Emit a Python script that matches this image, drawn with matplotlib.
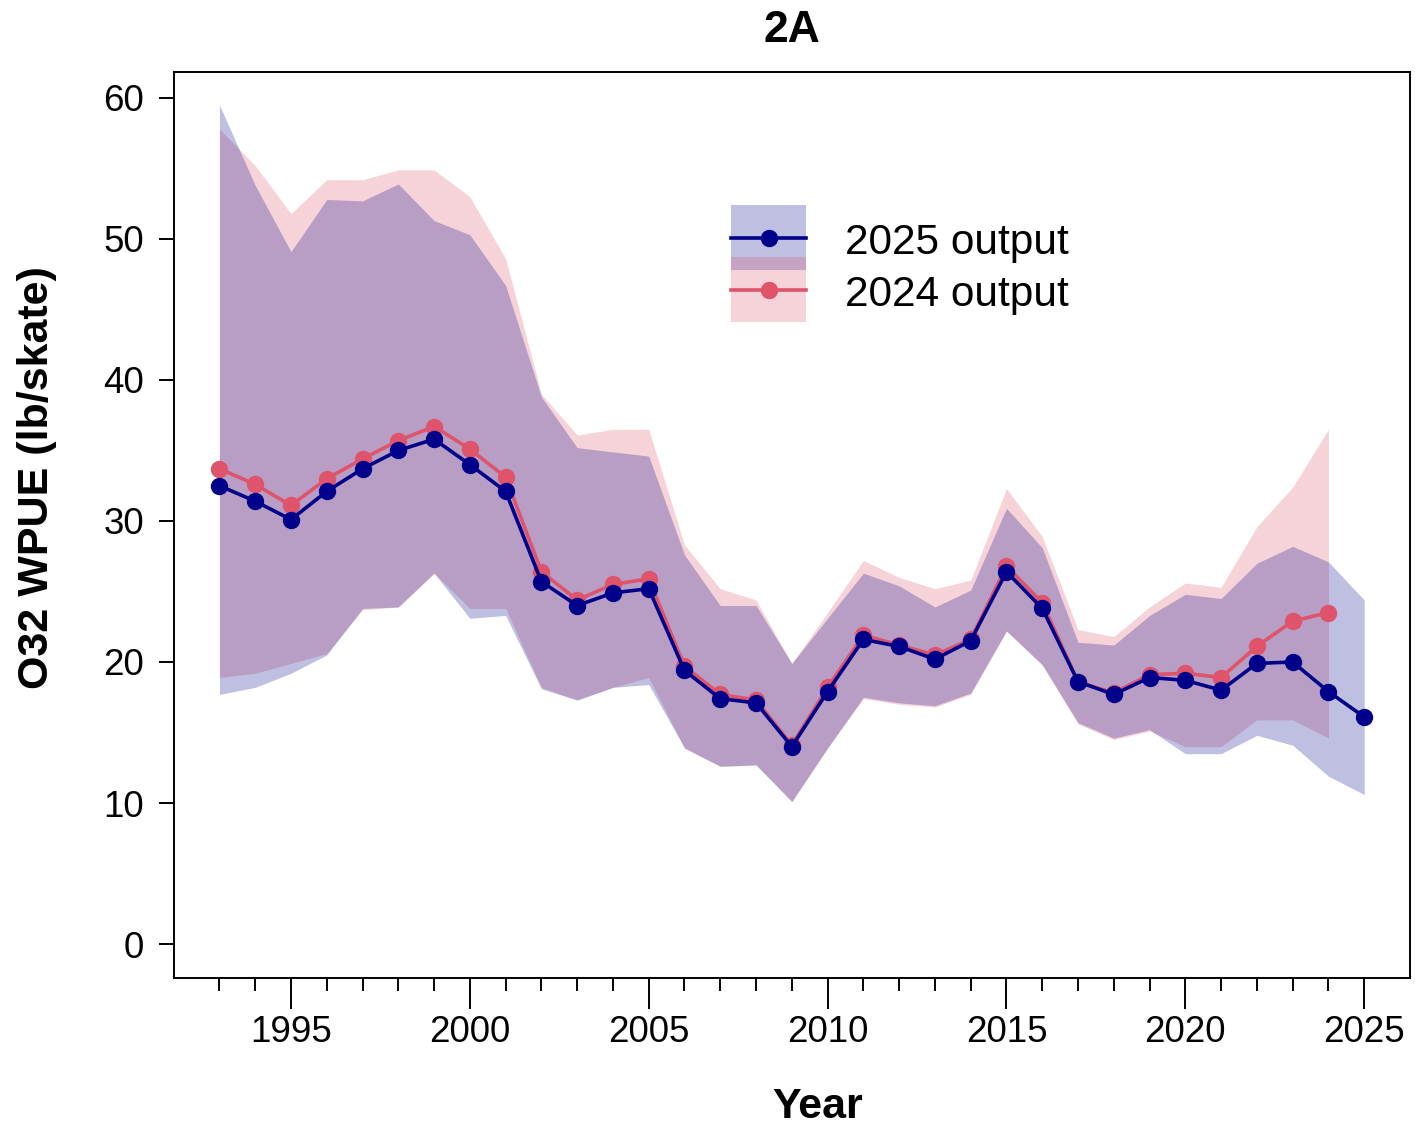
import matplotlib
matplotlib.use("Agg")
import matplotlib.pyplot as plt
from matplotlib.patches import Rectangle
import numpy as np

plt.rcParams['font.family'] = ['Liberation Sans', 'DejaVu Sans']

years_2025 = list(range(1993, 2026))
years_2024 = list(range(1993, 2025))

est_2025 = [32.5, 31.4, 30.1, 32.1, 33.7, 35.0, 35.8, 34.0, 32.1, 25.7, 24.0, 24.9, 25.2,
            19.4, 17.4, 17.1, 14.0, 17.9, 21.6, 21.1, 20.2, 21.5, 26.4, 23.8, 18.6, 17.7,
            18.9, 18.7, 18.0, 19.9, 20.0, 17.9, 16.1]
upr_2025 = [59.5, 53.8, 49.1, 52.8, 52.7, 53.9, 51.3, 50.3, 46.7, 38.8, 35.2, 34.9, 34.6,
            27.6, 24.0, 24.0, 19.9, 23.1, 26.3, 25.4, 23.9, 25.1, 30.9, 28.1, 21.4, 21.2,
            23.3, 24.8, 24.5, 27.0, 28.2, 27.1, 24.4]
lwr_2025 = [17.7, 18.2, 19.2, 20.5, 23.8, 23.9, 26.3, 23.1, 23.3, 18.1, 17.3, 18.2, 18.4,
            13.9, 12.6, 12.7, 10.1, 13.9, 17.5, 17.1, 16.9, 17.8, 22.2, 19.8, 15.7, 14.6,
            15.2, 13.5, 13.5, 14.8, 14.1, 11.9, 10.6]

est_2024 = [33.7, 32.6, 31.1, 33.0, 34.4, 35.7, 36.7, 35.1, 33.1, 26.4, 24.4, 25.5, 25.9,
            19.7, 17.7, 17.3, 14.1, 18.2, 21.9, 21.2, 20.5, 21.6, 26.8, 24.2, 18.6, 17.8,
            19.1, 19.2, 18.9, 21.1, 22.9, 23.5]
upr_2024 = [57.8, 55.2, 51.8, 54.2, 54.2, 54.9, 54.9, 53.0, 48.6, 39.0, 36.1, 36.5, 36.5,
            28.3, 25.2, 24.4, 19.9, 23.5, 27.2, 26.0, 25.2, 25.8, 32.3, 28.9, 22.3, 21.8,
            23.9, 25.6, 25.3, 29.6, 32.4, 36.5]
lwr_2024 = [18.9, 19.2, 19.9, 20.6, 23.7, 23.9, 26.3, 23.8, 23.8, 18.2, 17.3, 18.2, 18.9,
            13.9, 12.6, 12.7, 10.1, 13.9, 17.4, 17.0, 16.8, 17.7, 22.2, 19.8, 15.6, 14.5,
            15.1, 14.0, 14.0, 15.9, 15.9, 14.6]

labels = ["2025 output", "2024 output"]
blue = "#00008B"
red = "#DF536B"
alpha = 0.25

fig = plt.figure(figsize=(14.15, 11.25), dpi=100)
ax = fig.add_axes([174/1415, 1-978/1125, (1410-174)/1415, (978-72)/1125])

ax.fill_between(years_2024, lwr_2024, upr_2024, color=red, alpha=alpha, lw=0, zorder=1)
ax.fill_between(years_2025, lwr_2025, upr_2025, color=blue, alpha=alpha, lw=0, zorder=2)
ax.plot(years_2024, est_2024, color=red, lw=2.6, marker='o', ms=11.5, zorder=3)
ax.plot(years_2025, est_2025, color=blue, lw=2.6, marker='o', ms=11.5, zorder=4)

ax.set_xlim(1991.73, 2026.28)
ax.set_ylim(-2.41, 61.84)
ax.set_yticks(np.arange(0, 61, 10))
ax.set_xticks(np.arange(1995, 2026, 5))
ax.set_xticks(np.arange(1993, 2026, 1), minor=True)
ax.tick_params(axis='y', which='major', length=10.5, width=1.4, pad=11, labelsize=26.5)
ax.tick_params(axis='x', which='major', length=22, width=1.4, pad=5, labelsize=26.5)
ax.tick_params(axis='x', which='minor', length=9.5, width=1.4)
for s in ax.spines.values():
    s.set_linewidth(1.4)

# legend (manual, overlapping boxes)
lx0 = (731-174)/1236
lw_ = (806-731)/1236
ax.add_patch(Rectangle((lx0, (978-270)/906), lw_, 65/906, transform=ax.transAxes,
                       facecolor=blue, alpha=alpha, lw=0))
ax.add_patch(Rectangle((lx0, (978-322)/906), lw_, 65/906, transform=ax.transAxes,
                       facecolor=red, alpha=alpha, lw=0))
for yy, col, lab in [((978-238)/906, blue, labels[0]), ((978-290)/906, red, labels[1])]:
    ax.plot([lx0, lx0+lw_], [yy, yy], color=col, lw=2.6, transform=ax.transAxes, clip_on=False)
    ax.plot([lx0+lw_/2], [yy], color=col, marker='o', ms=11.5, transform=ax.transAxes, clip_on=False)
    ax.text((845-174)/1236, yy - 5/906, lab, transform=ax.transAxes, fontsize=30.5,
            va='center', ha='left')

fig.text(792/1415, 1-42/1125, "2A", ha='center', va='baseline', fontsize=32, fontweight='bold')
fig.text(818/1415, 1-1118/1125, "Year", ha='center', va='baseline', fontsize=31, fontweight='bold')
fig.text(37/1415, 1-478/1125, "O32 WPUE (lb/skate)", ha='center', va='center', rotation=90,
         fontsize=31, fontweight='bold')

fig.savefig("out.png", dpi=100)
